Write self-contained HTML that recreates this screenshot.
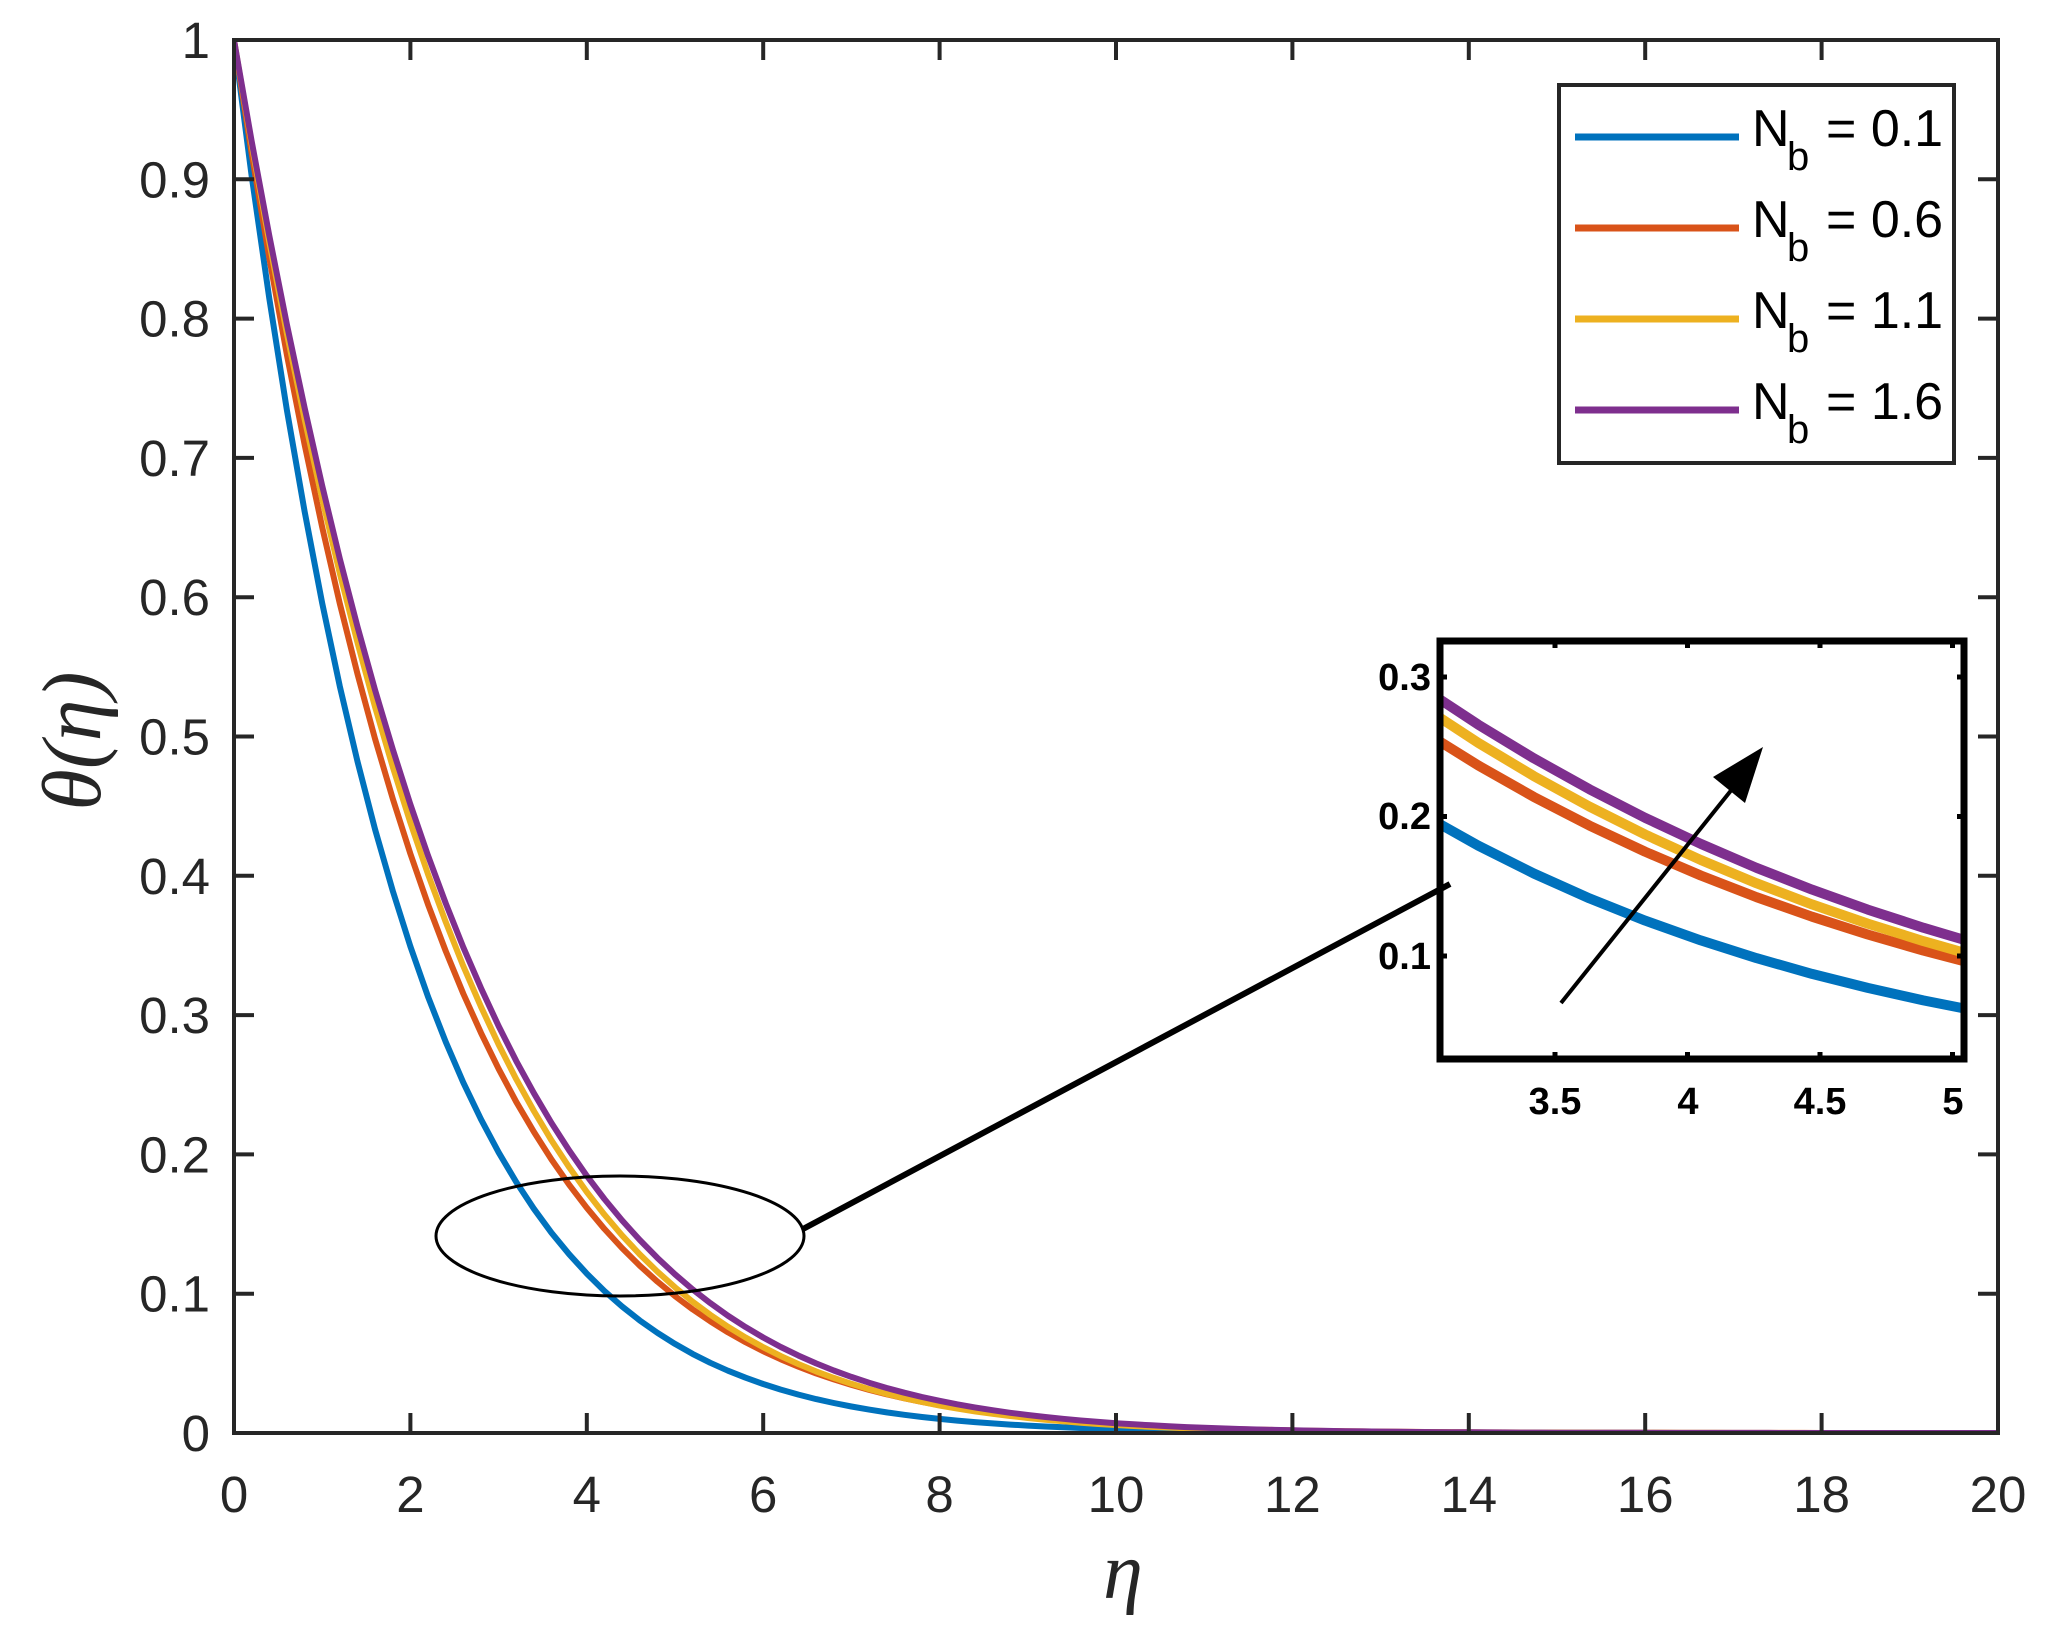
<!DOCTYPE html>
<html><head><meta charset="utf-8"><style>
html,body{margin:0;padding:0;background:#fff}
svg{display:block}
text{font-family:"Liberation Sans",sans-serif;fill:#262626}
</style></head><body>
<svg id="s" width="2066" height="1633" viewBox="0 0 2066 1633" xmlns="http://www.w3.org/2000/svg">
<defs>
<clipPath id="mc"><rect x="234" y="40" width="1764" height="1393"/></clipPath>
<clipPath id="ic"><rect x="1440" y="641" width="524" height="418"/></clipPath>
</defs>
<rect width="2066" height="1633" fill="#fff"/>
<g id="main" clip-path="url(#mc)"></g>
<g id="inset" clip-path="url(#ic)"></g>
<g id="axes" stroke="#262626" stroke-width="4" fill="none"></g>
<g id="labels" font-size="51" text-anchor="middle"></g>
<ellipse cx="620" cy="1236" rx="184" ry="60" fill="none" stroke="#000" stroke-width="3"/>
<line x1="803" y1="1229" x2="1450" y2="884" stroke="#000" stroke-width="6"/>
<rect x="1440" y="641" width="524" height="418" fill="none" stroke="#000" stroke-width="7"/>
<g id="iticks" stroke="#000" stroke-width="5"></g>
<g font-size="38" font-weight="bold" text-anchor="middle">
<text x="1555" y="1114" style="fill:#000">3.5</text>
<text x="1688" y="1114" style="fill:#000">4</text>
<text x="1820" y="1114" style="fill:#000">4.5</text>
<text x="1953" y="1114" style="fill:#000">5</text>
<text x="1431" y="690" text-anchor="end" style="fill:#000">0.3</text>
<text x="1431" y="829" text-anchor="end" style="fill:#000">0.2</text>
<text x="1431" y="969" text-anchor="end" style="fill:#000">0.1</text>
</g>
<line x1="1561" y1="1003" x2="1745" y2="773" stroke="#000" stroke-width="4"/>
<polygon points="1763,747 1713,777 1745,803" fill="#000"/>
<rect x="1559" y="85" width="395" height="378" fill="#fff" stroke="#262626" stroke-width="4"/>
<g stroke-width="7">
<line x1="1575" y1="137" x2="1739" y2="137" stroke="#0072BD"/>
<line x1="1575" y1="228" x2="1739" y2="228" stroke="#D95319"/>
<line x1="1575" y1="319" x2="1739" y2="319" stroke="#EDB120"/>
<line x1="1575" y1="410" x2="1739" y2="410" stroke="#7E2F8E"/>
</g>
<g font-size="52">
<text x="1752" y="146" style="fill:#000">N</text><text x="1787" y="170" font-size="40" style="fill:#000">b</text><text x="1826" y="146" style="fill:#000">= 0.1</text>
<text x="1752" y="237" style="fill:#000">N</text><text x="1787" y="261" font-size="40" style="fill:#000">b</text><text x="1826" y="237" style="fill:#000">= 0.6</text>
<text x="1752" y="328" style="fill:#000">N</text><text x="1787" y="352" font-size="40" style="fill:#000">b</text><text x="1826" y="328" style="fill:#000">= 1.1</text>
<text x="1752" y="419" style="fill:#000">N</text><text x="1787" y="443" font-size="40" style="fill:#000">b</text><text x="1826" y="419" style="fill:#000">= 1.6</text>
</g>
<text x="1123" y="1598" font-size="80" font-style="italic" text-anchor="middle" style="font-family:'Liberation Serif',serif">η</text>
<text transform="translate(100,741) rotate(-90)" font-size="84" font-style="italic" text-anchor="middle" style="font-family:'Liberation Serif',serif">θ(η)</text>
</svg>
<script>
var NS="http://www.w3.org/2000/svg";
function el(p,t,a,txt){var e=document.createElementNS(NS,t);for(var k in a)e.setAttribute(k,a[k]);if(txt!==undefined)e.textContent=txt;document.getElementById(p).appendChild(e);return e;}
var series=[["#0072BD",0.51,0.008],["#D95319",0.422,0.0084],["#EDB120",0.3866,0.013],["#7E2F8E",0.3735,0.0122]];
function f(s,x){return Math.exp(-s[1]*x-s[2]*x*x);}
var X=function(x){return 234+x*88.2}, Y=function(y){return 1433-y*1393};
series.forEach(function(s){var d="";for(var i=0;i<=100;i++){var x=i*0.2;d+=(i?"L":"M")+X(x).toFixed(1)+","+Y(f(s,x)).toFixed(1);}
el("main","path",{d:d,stroke:s[0],"stroke-width":6,fill:"none","stroke-linejoin":"round"});});
var XI=function(x){return 1555+(x-3.5)*265}, YI=function(y){return 677-(y-0.3)*1395};
series.forEach(function(s){var d="";for(var i=0;i<=10;i++){var x=3.0+i*0.21;d+=(i?"L":"M")+XI(x).toFixed(1)+","+YI(f(s,x)).toFixed(1);}
el("inset","path",{d:d,stroke:s[0],"stroke-width":10,fill:"none","stroke-linejoin":"round"});});
el("axes","rect",{x:234,y:40,width:1764,height:1393});
for(var i=0;i<=10;i++){var x=X(i*2);el("axes","line",{x1:x,y1:1433,x2:x,y2:1413});el("axes","line",{x1:x,y1:40,x2:x,y2:60});
el("labels","text",{x:x,y:1512},String(i*2));}
for(var i=0;i<=10;i++){var y=Y(i/10);el("axes","line",{x1:234,y1:y,x2:254,y2:y});el("axes","line",{x1:1998,y1:y,x2:1978,y2:y});
el("labels","text",{x:210,y:y+18,"text-anchor":"end"},i==0?"0":(i==10?"1":(i/10).toFixed(1)));}
[3.5,4,4.5,5].forEach(function(v){var x=XI(v);el("iticks","line",{x1:x,y1:641,x2:x,y2:648});el("iticks","line",{x1:x,y1:1059,x2:x,y2:1052});});
[0.1,0.2,0.3].forEach(function(v){var y=YI(v);el("iticks","line",{x1:1440,y1:y,x2:1447,y2:y});el("iticks","line",{x1:1964,y1:y,x2:1957,y2:y});});
</script>
</body></html>
